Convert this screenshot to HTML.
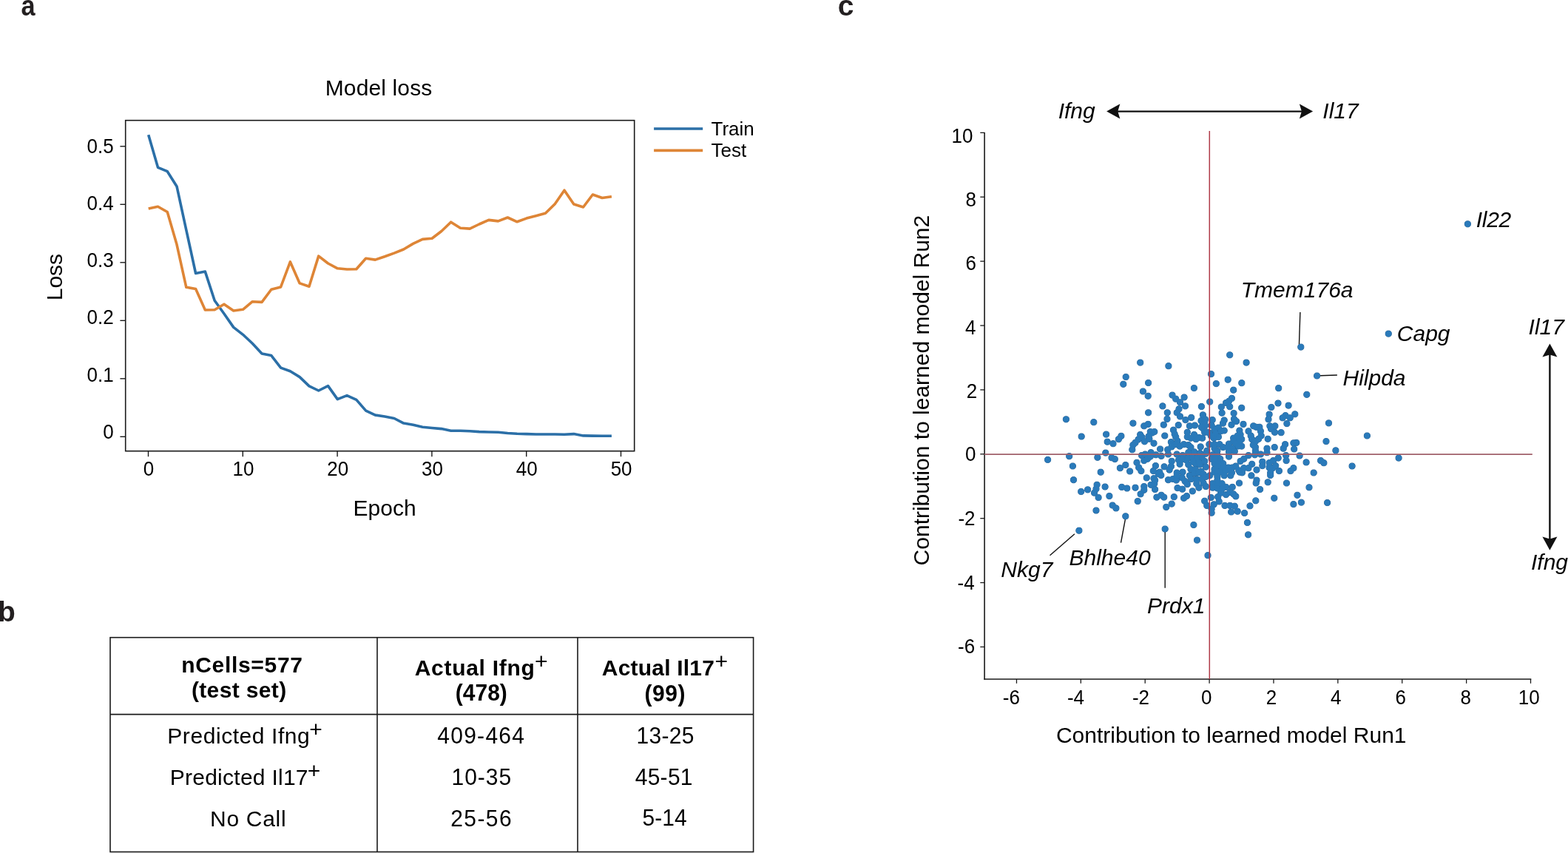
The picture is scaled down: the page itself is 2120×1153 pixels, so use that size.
<!DOCTYPE html>
<html><head><meta charset="utf-8"><title>Figure</title>
<style>
html,body{margin:0;padding:0;background:#fff;}
body{width:2120px;height:1153px;overflow:hidden;}
svg{display:block;}
text{font-family:"Liberation Sans", Arial, Helvetica, sans-serif;}
</style></head>
<body>
<svg width="2120" height="1153" viewBox="0 0 2120 1153">
<rect width="2120" height="1153" fill="#fff"/>
<text transform="translate(28.6,21) scale(0.88,1)" font-size="39" font-weight="bold" fill="#231f20">a</text>
<text x="439.70" y="129.20" font-size="30" textLength="144.59">Model loss</text>
<rect x="169.7" y="162.7" width="688.0" height="447.00000000000006" fill="none" stroke="#1a1a1a" stroke-width="1.6"/>
<line x1="162.40" y1="590.30" x2="169.70" y2="590.30" stroke="#1a1a1a" stroke-width="1.4"/>
<text transform="translate(153.6,592.90) scale(1,1.04)" font-size="26" text-anchor="end">0</text>
<line x1="162.40" y1="511.80" x2="169.70" y2="511.80" stroke="#1a1a1a" stroke-width="1.4"/>
<text transform="translate(153.6,515.62) scale(1,1.04)" font-size="26" text-anchor="end">0.1</text>
<line x1="162.40" y1="433.30" x2="169.70" y2="433.30" stroke="#1a1a1a" stroke-width="1.4"/>
<text transform="translate(153.6,438.34) scale(1,1.04)" font-size="26" text-anchor="end">0.2</text>
<line x1="162.40" y1="354.80" x2="169.70" y2="354.80" stroke="#1a1a1a" stroke-width="1.4"/>
<text transform="translate(153.6,361.06) scale(1,1.04)" font-size="26" text-anchor="end">0.3</text>
<line x1="162.40" y1="276.30" x2="169.70" y2="276.30" stroke="#1a1a1a" stroke-width="1.4"/>
<text transform="translate(153.6,283.78) scale(1,1.04)" font-size="26" text-anchor="end">0.4</text>
<line x1="162.40" y1="197.80" x2="169.70" y2="197.80" stroke="#1a1a1a" stroke-width="1.4"/>
<text transform="translate(153.6,206.50) scale(1,1.04)" font-size="26" text-anchor="end">0.5</text>
<line x1="200.50" y1="609.70" x2="200.50" y2="617.20" stroke="#1a1a1a" stroke-width="1.4"/>
<text transform="translate(201.10,643.4) scale(1,1.04)" font-size="26" text-anchor="middle">0</text>
<line x1="328.30" y1="609.70" x2="328.30" y2="617.20" stroke="#1a1a1a" stroke-width="1.4"/>
<text transform="translate(328.90,643.4) scale(1,1.04)" font-size="26" text-anchor="middle">10</text>
<line x1="456.10" y1="609.70" x2="456.10" y2="617.20" stroke="#1a1a1a" stroke-width="1.4"/>
<text transform="translate(456.70,643.4) scale(1,1.04)" font-size="26" text-anchor="middle">20</text>
<line x1="583.90" y1="609.70" x2="583.90" y2="617.20" stroke="#1a1a1a" stroke-width="1.4"/>
<text transform="translate(584.50,643.4) scale(1,1.04)" font-size="26" text-anchor="middle">30</text>
<line x1="711.70" y1="609.70" x2="711.70" y2="617.20" stroke="#1a1a1a" stroke-width="1.4"/>
<text transform="translate(712.30,643.4) scale(1,1.04)" font-size="26" text-anchor="middle">40</text>
<line x1="839.50" y1="609.70" x2="839.50" y2="617.20" stroke="#1a1a1a" stroke-width="1.4"/>
<text transform="translate(840.10,643.4) scale(1,1.04)" font-size="26" text-anchor="middle">50</text>
<text x="477.60" y="697.40" font-size="30">Epoch</text>
<text transform="translate(84.00,406.30) rotate(-90)" x="0" y="0" font-size="30">Loss</text>
<polyline points="200.70,182.30 213.48,226.30 226.26,231.70 239.04,252.00 251.82,310.80 264.60,369.50 277.38,367.10 290.16,406.30 302.94,424.00 315.72,442.40 328.50,452.30 341.28,464.30 354.06,478.00 366.84,480.60 379.62,497.10 392.40,501.80 405.18,509.60 417.96,521.90 430.74,528.00 443.52,521.60 456.30,539.60 469.08,534.60 481.86,540.40 494.64,555.10 507.42,561.10 520.20,563.00 532.98,565.50 545.76,572.10 558.54,574.30 571.32,577.20 584.10,578.50 596.88,579.60 609.66,582.30 622.44,582.30 635.22,582.80 648.00,583.60 660.78,584.00 673.56,584.30 686.34,585.50 699.12,586.20 711.90,586.60 724.68,587.00 737.46,587.00 750.24,587.00 763.02,587.20 775.80,586.60 788.58,588.90 801.36,589.10 814.14,589.20 826.92,589.20" fill="none" stroke="#2b6fa7" stroke-width="3.6" stroke-linejoin="round"/>
<polyline points="200.70,282.00 213.48,279.30 226.26,286.50 239.04,330.60 251.82,388.30 264.60,390.50 277.38,419.00 290.16,418.70 302.94,411.20 315.72,420.00 328.50,418.30 341.28,407.70 354.06,408.40 366.84,391.20 379.62,387.90 392.40,353.90 405.18,382.90 417.96,387.20 430.74,346.10 443.52,356.00 456.30,362.80 469.08,364.00 481.86,363.80 494.64,349.20 507.42,351.10 520.20,346.80 532.98,342.10 545.76,337.00 558.54,329.40 571.32,323.40 584.10,322.30 596.88,312.50 609.66,300.20 622.44,308.30 635.22,309.10 648.00,303.00 660.78,297.40 673.56,298.90 686.34,294.00 699.12,299.80 711.90,295.10 724.68,291.70 737.46,288.30 750.24,275.70 763.02,257.20 775.80,276.00 788.58,280.00 801.36,263.00 814.14,267.50 826.92,265.70" fill="none" stroke="#de8536" stroke-width="3.6" stroke-linejoin="round"/>
<line x1="884.10" y1="174.00" x2="950.20" y2="174.00" stroke="#2b6fa7" stroke-width="3.6"/>
<line x1="884.10" y1="203.40" x2="950.20" y2="203.40" stroke="#de8536" stroke-width="3.6"/>
<text x="961.50" y="182.60" font-size="26">Train</text>
<text x="961.60" y="211.90" font-size="26">Test</text>
<text x="-3.10" y="840.40" font-weight="bold" font-size="39" fill="#231f20">b</text>
<rect x="149" y="861.7" width="869.6" height="289.79999999999995" fill="none" stroke="#1a1a1a" stroke-width="1.6"/>
<line x1="510.00" y1="861.70" x2="510.00" y2="1151.50" stroke="#1a1a1a" stroke-width="1.6"/>
<line x1="781.00" y1="861.70" x2="781.00" y2="1151.50" stroke="#1a1a1a" stroke-width="1.6"/>
<line x1="149.00" y1="965.60" x2="1018.60" y2="965.60" stroke="#1a1a1a" stroke-width="1.6"/>
<text x="245.20" y="908.80" font-weight="bold" font-size="30" textLength="163.80">nCells=577</text>
<text x="258.90" y="942.90" font-weight="bold" font-size="30" textLength="128.23">(test set)</text>
<text x="560.70" y="913.00" font-weight="bold" font-size="30" textLength="162.09">Actual Ifng</text>
<text transform="translate(615.80,947.20) scale(1,1.04)" x="0" y="0" font-weight="bold" font-size="30">(478)</text>
<text x="813.80" y="913.20" font-weight="bold" font-size="30" textLength="152.06">Actual Il17</text>
<text transform="translate(871.60,947.60) scale(1,1.04)" x="0" y="0" font-weight="bold" font-size="30" textLength="54.85">(99)</text>
<text x="722.90" y="904.30" font-size="30">+</text>
<text x="966.40" y="904.10" font-size="30">+</text>
<text x="418.30" y="996.10" font-size="30">+</text>
<text x="415.70" y="1052.20" font-size="30">+</text>
<text x="226.30" y="1005.10" font-size="30" textLength="192.41">Predicted Ifng</text>
<text x="229.70" y="1060.80" font-size="30" textLength="186.84">Predicted Il17</text>
<text x="284.10" y="1116.60" font-size="30" textLength="102.47">No Call</text>
<text transform="translate(591.20,1004.70) scale(1,1.04)" x="0" y="0" font-size="30" textLength="117.80">409-464</text>
<text transform="translate(610.50,1060.80) scale(1,1.04)" x="0" y="0" font-size="30" textLength="80.73">10-35</text>
<text transform="translate(609.20,1116.60) scale(1,1.04)" x="0" y="0" font-size="30" textLength="82.43">25-56</text>
<text transform="translate(860.60,1004.70) scale(1,1.04)" x="0" y="0" font-size="30" textLength="77.83">13-25</text>
<text transform="translate(858.70,1060.90) scale(1,1.04)" x="0" y="0" font-size="30" textLength="77.83">45-51</text>
<text transform="translate(868.60,1116.40) scale(1,1.04)" x="0" y="0" font-size="30">5-14</text>
<text x="1132.70" y="20.90" font-weight="bold" font-size="39" fill="#231f20">c</text>
<line x1="1331.10" y1="179.00" x2="1331.10" y2="918.70" stroke="#1a1a1a" stroke-width="1.6"/>
<line x1="1330.40" y1="918.00" x2="2070.30" y2="918.00" stroke="#1a1a1a" stroke-width="1.6"/>
<line x1="1325.30" y1="874.44" x2="1331.10" y2="874.44" stroke="#1a1a1a" stroke-width="1.3"/>
<text transform="translate(1295.00,882.80) scale(1,1.04)" font-size="26">-6</text>
<line x1="1325.30" y1="787.56" x2="1331.10" y2="787.56" stroke="#1a1a1a" stroke-width="1.3"/>
<text transform="translate(1294.60,796.50) scale(1,1.04)" font-size="26">-4</text>
<line x1="1325.30" y1="700.68" x2="1331.10" y2="700.68" stroke="#1a1a1a" stroke-width="1.3"/>
<text transform="translate(1295.40,709.60) scale(1,1.04)" font-size="26">-2</text>
<line x1="1325.30" y1="613.80" x2="1331.10" y2="613.80" stroke="#1a1a1a" stroke-width="1.3"/>
<text transform="translate(1304.90,623.00) scale(1,1.04)" font-size="26">0</text>
<line x1="1325.30" y1="526.92" x2="1331.10" y2="526.92" stroke="#1a1a1a" stroke-width="1.3"/>
<text transform="translate(1306.80,537.70) scale(1,1.04)" font-size="26">2</text>
<line x1="1325.30" y1="440.04" x2="1331.10" y2="440.04" stroke="#1a1a1a" stroke-width="1.3"/>
<text transform="translate(1305.00,451.70) scale(1,1.04)" font-size="26">4</text>
<line x1="1325.30" y1="353.16" x2="1331.10" y2="353.16" stroke="#1a1a1a" stroke-width="1.3"/>
<text transform="translate(1305.40,365.10) scale(1,1.04)" font-size="26">6</text>
<line x1="1325.30" y1="266.28" x2="1331.10" y2="266.28" stroke="#1a1a1a" stroke-width="1.3"/>
<text transform="translate(1305.40,278.60) scale(1,1.04)" font-size="26">8</text>
<line x1="1325.30" y1="179.40" x2="1331.10" y2="179.40" stroke="#1a1a1a" stroke-width="1.3"/>
<text transform="translate(1286.60,192.90) scale(1,1.04)" font-size="26">10</text>
<line x1="1374.46" y1="918.00" x2="1374.46" y2="923.80" stroke="#1a1a1a" stroke-width="1.3"/>
<text transform="translate(1355.80,952.0) scale(1,1.04)" font-size="26">-6</text>
<line x1="1461.34" y1="918.00" x2="1461.34" y2="923.80" stroke="#1a1a1a" stroke-width="1.3"/>
<text transform="translate(1442.95,952.0) scale(1,1.04)" font-size="26">-4</text>
<line x1="1548.22" y1="918.00" x2="1548.22" y2="923.80" stroke="#1a1a1a" stroke-width="1.3"/>
<text transform="translate(1530.95,952.0) scale(1,1.04)" font-size="26">-2</text>
<line x1="1635.10" y1="918.00" x2="1635.10" y2="923.80" stroke="#1a1a1a" stroke-width="1.3"/>
<text transform="translate(1624.10,952.0) scale(1,1.04)" font-size="26">0</text>
<line x1="1721.98" y1="918.00" x2="1721.98" y2="923.80" stroke="#1a1a1a" stroke-width="1.3"/>
<text transform="translate(1711.65,952.0) scale(1,1.04)" font-size="26">2</text>
<line x1="1808.86" y1="918.00" x2="1808.86" y2="923.80" stroke="#1a1a1a" stroke-width="1.3"/>
<text transform="translate(1799.05,952.0) scale(1,1.04)" font-size="26">4</text>
<line x1="1895.74" y1="918.00" x2="1895.74" y2="923.80" stroke="#1a1a1a" stroke-width="1.3"/>
<text transform="translate(1886.60,952.0) scale(1,1.04)" font-size="26">6</text>
<line x1="1982.62" y1="918.00" x2="1982.62" y2="923.80" stroke="#1a1a1a" stroke-width="1.3"/>
<text transform="translate(1974.50,952.0) scale(1,1.04)" font-size="26">8</text>
<line x1="2069.50" y1="918.00" x2="2069.50" y2="923.80" stroke="#1a1a1a" stroke-width="1.3"/>
<text transform="translate(2052.75,952.0) scale(1,1.04)" font-size="26">10</text>
<text x="1427.90" y="1003.80" font-size="30">Contribution to learned model Run1</text>
<text transform="translate(1255.70,764.40) rotate(-90)" x="0" y="0" font-size="30">Contribution to learned model Run2</text>
<line x1="1508.00" y1="150.60" x2="1763.00" y2="150.60" stroke="#111" stroke-width="2.4"/>
<path d="M1496.10,150.60 L1514.30,140.60 L1511.30,150.60 L1514.30,160.60 Z" fill="#111"/>
<path d="M1775.10,150.60 L1756.90,160.60 L1759.90,150.60 L1756.90,140.60 Z" fill="#111"/>
<line x1="2095.40" y1="476.00" x2="2095.40" y2="732.00" stroke="#111" stroke-width="2.4"/>
<path d="M2095.40,464.40 L2105.40,482.60 L2095.40,479.60 L2085.40,482.60 Z" fill="#111"/>
<path d="M2095.40,743.70 L2085.40,725.50 L2095.40,728.50 L2105.40,725.50 Z" fill="#111"/>
<text x="1430.70" y="159.90" font-style="italic" font-size="30">Ifng</text>
<text x="1788.30" y="159.90" font-style="italic" font-size="30">Il17</text>
<text x="2066.60" y="452.30" font-style="italic" font-size="30">Il17</text>
<text x="2070.00" y="770.00" font-style="italic" font-size="30">Ifng</text>
<text x="1995.80" y="307.00" font-style="italic" font-size="30" textLength="47.37">Il22</text>
<text x="1677.80" y="402.30" font-style="italic" font-size="30">Tmem176a</text>
<text x="1888.80" y="461.30" font-style="italic" font-size="30">Capg</text>
<text x="1815.50" y="520.70" font-style="italic" font-size="30">Hilpda</text>
<text x="1353.30" y="779.90" font-style="italic" font-size="30">Nkg7</text>
<text x="1445.50" y="763.60" font-style="italic" font-size="30">Bhlhe40</text>
<text x="1551.10" y="829.40" font-style="italic" font-size="30">Prdx1</text>
<line x1="1757.90" y1="422.10" x2="1756.40" y2="467.60" stroke="#111" stroke-width="1.4"/>
<line x1="1785.00" y1="507.80" x2="1807.90" y2="507.00" stroke="#111" stroke-width="1.4"/>
<line x1="1452.90" y1="721.80" x2="1419.50" y2="750.80" stroke="#111" stroke-width="1.4"/>
<line x1="1521.40" y1="702.00" x2="1515.50" y2="733.60" stroke="#111" stroke-width="1.4"/>
<line x1="1575.20" y1="715.00" x2="1575.20" y2="794.70" stroke="#111" stroke-width="1.4"/>
<g fill="#245f92" stroke="#245f92" stroke-width="0.9"><circle cx="1541.7" cy="490.1" r="4.1"/><circle cx="1522.2" cy="509.5" r="4.1"/><circle cx="1518.8" cy="519.3" r="4.1"/><circle cx="1552.6" cy="517.5" r="4.1"/><circle cx="1545.4" cy="529.0" r="4.1"/><circle cx="1552.2" cy="535.3" r="4.1"/><circle cx="1579.9" cy="494.7" r="4.1"/><circle cx="1662.7" cy="479.8" r="4.1"/><circle cx="1685.1" cy="490.1" r="4.1"/><circle cx="1637.5" cy="505.6" r="4.1"/><circle cx="1660.2" cy="513.2" r="4.1"/><circle cx="1644.3" cy="518.6" r="4.1"/><circle cx="1678.8" cy="517.7" r="4.1"/><circle cx="1614.4" cy="524.6" r="4.1"/><circle cx="1667.7" cy="527.2" r="4.1"/><circle cx="1585.0" cy="534.1" r="4.1"/><circle cx="1589.7" cy="539.2" r="4.1"/><circle cx="1595.5" cy="543.8" r="4.1"/><circle cx="1601.1" cy="537.0" r="4.1"/><circle cx="1571.9" cy="548.9" r="4.1"/><circle cx="1602.5" cy="548.9" r="4.1"/><circle cx="1624.4" cy="549.5" r="4.1"/><circle cx="1635.7" cy="543.1" r="4.1"/><circle cx="1665.4" cy="538.4" r="4.1"/><circle cx="1661.5" cy="542.3" r="4.1"/><circle cx="1657.6" cy="544.6" r="4.1"/><circle cx="1651.3" cy="550.1" r="4.1"/><circle cx="1662.7" cy="549.7" r="4.1"/><circle cx="1678.7" cy="551.3" r="4.1"/><circle cx="1718.9" cy="550.5" r="4.1"/><circle cx="1594.0" cy="552.8" r="4.1"/><circle cx="1728.7" cy="524.7" r="4.1"/><circle cx="1766.8" cy="533.3" r="4.1"/><circle cx="1728.0" cy="545.0" r="4.1"/><circle cx="1742.1" cy="548.1" r="4.1"/><circle cx="1441.4" cy="566.8" r="4.1"/><circle cx="1478.8" cy="570.7" r="4.1"/><circle cx="1462.2" cy="590.0" r="4.1"/><circle cx="1552.6" cy="557.8" r="4.1"/><circle cx="1531.9" cy="572.1" r="4.1"/><circle cx="1495.6" cy="587.1" r="4.1"/><circle cx="1497.2" cy="597.2" r="4.1"/><circle cx="1505.0" cy="599.7" r="4.1"/><circle cx="1512.4" cy="593.7" r="4.1"/><circle cx="1515.9" cy="589.4" r="4.1"/><circle cx="1552.2" cy="573.4" r="4.1"/><circle cx="1546.8" cy="575.8" r="4.1"/><circle cx="1555.3" cy="583.6" r="4.1"/><circle cx="1557.7" cy="585.1" r="4.1"/><circle cx="1541.7" cy="587.5" r="4.1"/><circle cx="1553.0" cy="589.8" r="4.1"/><circle cx="1547.5" cy="596.8" r="4.1"/><circle cx="1535.0" cy="598.4" r="4.1"/><circle cx="1531.9" cy="601.5" r="4.1"/><circle cx="1560.0" cy="599.2" r="4.1"/><circle cx="1530.8" cy="607.8" r="4.1"/><circle cx="1416.6" cy="621.4" r="4.1"/><circle cx="1445.7" cy="616.7" r="4.1"/><circle cx="1450.4" cy="630.0" r="4.1"/><circle cx="1483.9" cy="618.3" r="4.1"/><circle cx="1494.8" cy="612.1" r="4.1"/><circle cx="1503.0" cy="618.7" r="4.1"/><circle cx="1507.3" cy="620.6" r="4.1"/><circle cx="1543.6" cy="615.6" r="4.1"/><circle cx="1548.3" cy="614.0" r="4.1"/><circle cx="1556.1" cy="611.7" r="4.1"/><circle cx="1562.8" cy="614.8" r="4.1"/><circle cx="1546.8" cy="622.6" r="4.1"/><circle cx="1551.4" cy="620.3" r="4.1"/><circle cx="1555.3" cy="617.1" r="4.1"/><circle cx="1537.0" cy="625.3" r="4.1"/><circle cx="1521.8" cy="628.5" r="4.1"/><circle cx="1514.4" cy="632.7" r="4.1"/><circle cx="1488.2" cy="638.2" r="4.1"/><circle cx="1527.6" cy="637.0" r="4.1"/><circle cx="1539.7" cy="632.0" r="4.1"/><circle cx="1542.9" cy="636.6" r="4.1"/><circle cx="1562.4" cy="629.6" r="4.1"/><circle cx="1559.3" cy="636.6" r="4.1"/><circle cx="1578.3" cy="557.8" r="4.1"/><circle cx="1591.2" cy="557.8" r="4.1"/><circle cx="1595.5" cy="562.9" r="4.1"/><circle cx="1602.9" cy="567.6" r="4.1"/><circle cx="1610.7" cy="564.4" r="4.1"/><circle cx="1578.0" cy="566.4" r="4.1"/><circle cx="1573.3" cy="574.2" r="4.1"/><circle cx="1593.2" cy="574.6" r="4.1"/><circle cx="1626.4" cy="560.9" r="4.1"/><circle cx="1624.0" cy="568.7" r="4.1"/><circle cx="1628.7" cy="570.3" r="4.1"/><circle cx="1639.2" cy="567.6" r="4.1"/><circle cx="1652.1" cy="558.2" r="4.1"/><circle cx="1655.2" cy="568.0" r="4.1"/><circle cx="1668.1" cy="558.6" r="4.1"/><circle cx="1668.5" cy="566.4" r="4.1"/><circle cx="1671.6" cy="569.5" r="4.1"/><circle cx="1665.0" cy="574.2" r="4.1"/><circle cx="1681.0" cy="573.4" r="4.1"/><circle cx="1716.1" cy="560.1" r="4.1"/><circle cx="1715.0" cy="566.8" r="4.1"/><circle cx="1716.9" cy="575.8" r="4.1"/><circle cx="1718.5" cy="579.7" r="4.1"/><circle cx="1723.5" cy="584.3" r="4.1"/><circle cx="1694.7" cy="575.8" r="4.1"/><circle cx="1702.9" cy="577.3" r="4.1"/><circle cx="1704.4" cy="582.8" r="4.1"/><circle cx="1688.0" cy="582.8" r="4.1"/><circle cx="1691.2" cy="589.0" r="4.1"/><circle cx="1692.7" cy="593.7" r="4.1"/><circle cx="1697.4" cy="596.8" r="4.1"/><circle cx="1705.2" cy="589.0" r="4.1"/><circle cx="1714.2" cy="593.3" r="4.1"/><circle cx="1694.3" cy="601.5" r="4.1"/><circle cx="1697.4" cy="604.6" r="4.1"/><circle cx="1697.4" cy="609.3" r="4.1"/><circle cx="1713.0" cy="606.2" r="4.1"/><circle cx="1713.0" cy="611.7" r="4.1"/><circle cx="1723.2" cy="604.6" r="4.1"/><circle cx="1704.4" cy="614.0" r="4.1"/><circle cx="1696.6" cy="614.8" r="4.1"/><circle cx="1688.0" cy="615.6" r="4.1"/><circle cx="1675.9" cy="582.0" r="4.1"/><circle cx="1677.1" cy="587.5" r="4.1"/><circle cx="1678.7" cy="593.7" r="4.1"/><circle cx="1678.7" cy="603.1" r="4.1"/><circle cx="1672.4" cy="592.2" r="4.1"/><circle cx="1667.7" cy="592.2" r="4.1"/><circle cx="1667.7" cy="596.8" r="4.1"/><circle cx="1661.5" cy="600.0" r="4.1"/><circle cx="1659.9" cy="604.6" r="4.1"/><circle cx="1666.2" cy="606.2" r="4.1"/><circle cx="1669.3" cy="610.1" r="4.1"/><circle cx="1661.5" cy="610.9" r="4.1"/><circle cx="1661.5" cy="617.1" r="4.1"/><circle cx="1647.4" cy="578.1" r="4.1"/><circle cx="1655.2" cy="582.0" r="4.1"/><circle cx="1650.6" cy="582.8" r="4.1"/><circle cx="1642.0" cy="579.7" r="4.1"/><circle cx="1638.1" cy="575.0" r="4.1"/><circle cx="1643.5" cy="585.9" r="4.1"/><circle cx="1647.4" cy="590.6" r="4.1"/><circle cx="1641.2" cy="592.2" r="4.1"/><circle cx="1637.3" cy="589.0" r="4.1"/><circle cx="1634.9" cy="585.1" r="4.1"/><circle cx="1627.1" cy="579.7" r="4.1"/><circle cx="1628.7" cy="584.3" r="4.1"/><circle cx="1625.6" cy="592.2" r="4.1"/><circle cx="1620.9" cy="591.4" r="4.1"/><circle cx="1617.0" cy="593.7" r="4.1"/><circle cx="1614.6" cy="587.5" r="4.1"/><circle cx="1608.4" cy="575.8" r="4.1"/><circle cx="1615.4" cy="575.0" r="4.1"/><circle cx="1605.3" cy="584.3" r="4.1"/><circle cx="1605.3" cy="590.6" r="4.1"/><circle cx="1610.0" cy="592.2" r="4.1"/><circle cx="1586.5" cy="581.2" r="4.1"/><circle cx="1588.1" cy="586.7" r="4.1"/><circle cx="1589.7" cy="590.6" r="4.1"/><circle cx="1574.8" cy="589.0" r="4.1"/><circle cx="1560.8" cy="583.6" r="4.1"/><circle cx="1583.4" cy="597.6" r="4.1"/><circle cx="1592.0" cy="596.1" r="4.1"/><circle cx="1589.7" cy="600.7" r="4.1"/><circle cx="1584.2" cy="603.9" r="4.1"/><circle cx="1578.7" cy="607.8" r="4.1"/><circle cx="1568.6" cy="607.0" r="4.1"/><circle cx="1595.1" cy="603.1" r="4.1"/><circle cx="1600.6" cy="600.7" r="4.1"/><circle cx="1606.8" cy="601.5" r="4.1"/><circle cx="1610.0" cy="604.6" r="4.1"/><circle cx="1623.2" cy="603.9" r="4.1"/><circle cx="1634.9" cy="600.7" r="4.1"/><circle cx="1642.0" cy="600.7" r="4.1"/><circle cx="1649.0" cy="600.7" r="4.1"/><circle cx="1653.7" cy="604.6" r="4.1"/><circle cx="1642.0" cy="606.2" r="4.1"/><circle cx="1645.9" cy="609.3" r="4.1"/><circle cx="1631.8" cy="609.3" r="4.1"/><circle cx="1570.1" cy="616.4" r="4.1"/><circle cx="1579.5" cy="614.0" r="4.1"/><circle cx="1591.2" cy="614.0" r="4.1"/><circle cx="1599.0" cy="615.6" r="4.1"/><circle cx="1606.8" cy="611.7" r="4.1"/><circle cx="1614.6" cy="610.9" r="4.1"/><circle cx="1622.5" cy="612.5" r="4.1"/><circle cx="1630.3" cy="613.2" r="4.1"/><circle cx="1639.6" cy="614.8" r="4.1"/><circle cx="1645.9" cy="614.8" r="4.1"/><circle cx="1584.2" cy="623.4" r="4.1"/><circle cx="1583.4" cy="630.4" r="4.1"/><circle cx="1574.1" cy="630.8" r="4.1"/><circle cx="1581.1" cy="635.1" r="4.1"/><circle cx="1593.6" cy="621.8" r="4.1"/><circle cx="1595.1" cy="627.3" r="4.1"/><circle cx="1603.7" cy="621.8" r="4.1"/><circle cx="1606.8" cy="628.1" r="4.1"/><circle cx="1610.0" cy="634.3" r="4.1"/><circle cx="1616.2" cy="626.5" r="4.1"/><circle cx="1616.2" cy="634.3" r="4.1"/><circle cx="1622.5" cy="628.1" r="4.1"/><circle cx="1628.7" cy="623.4" r="4.1"/><circle cx="1630.3" cy="631.2" r="4.1"/><circle cx="1624.0" cy="637.4" r="4.1"/><circle cx="1638.1" cy="620.3" r="4.1"/><circle cx="1642.0" cy="626.5" r="4.1"/><circle cx="1649.8" cy="620.3" r="4.1"/><circle cx="1653.7" cy="626.5" r="4.1"/><circle cx="1642.0" cy="634.3" r="4.1"/><circle cx="1652.1" cy="634.3" r="4.1"/><circle cx="1660.7" cy="632.0" r="4.1"/><circle cx="1666.2" cy="632.0" r="4.1"/><circle cx="1670.8" cy="630.0" r="4.1"/><circle cx="1677.1" cy="623.4" r="4.1"/><circle cx="1681.8" cy="620.3" r="4.1"/><circle cx="1692.7" cy="627.3" r="4.1"/><circle cx="1681.8" cy="632.7" r="4.1"/><circle cx="1688.0" cy="632.7" r="4.1"/><circle cx="1699.0" cy="635.1" r="4.1"/><circle cx="1706.8" cy="624.2" r="4.1"/><circle cx="1706.8" cy="629.6" r="4.1"/><circle cx="1716.1" cy="625.7" r="4.1"/><circle cx="1721.6" cy="622.6" r="4.1"/><circle cx="1716.1" cy="632.0" r="4.1"/><circle cx="1720.8" cy="632.7" r="4.1"/><circle cx="1717.7" cy="639.0" r="4.1"/><circle cx="1665.4" cy="639.0" r="4.1"/><circle cx="1676.3" cy="638.2" r="4.1"/><circle cx="1599.0" cy="638.2" r="4.1"/><circle cx="1591.2" cy="639.0" r="4.1"/><circle cx="1567.8" cy="638.2" r="4.1"/><circle cx="1750.8" cy="559.8" r="4.1"/><circle cx="1738.0" cy="561.7" r="4.1"/><circle cx="1734.1" cy="564.8" r="4.1"/><circle cx="1744.2" cy="564.8" r="4.1"/><circle cx="1739.9" cy="572.6" r="4.1"/><circle cx="1723.9" cy="575.8" r="4.1"/><circle cx="1732.1" cy="584.7" r="4.1"/><circle cx="1796.5" cy="571.9" r="4.1"/><circle cx="1848.4" cy="589.0" r="4.1"/><circle cx="1793.0" cy="596.6" r="4.1"/><circle cx="1805.9" cy="608.9" r="4.1"/><circle cx="1737.6" cy="600.7" r="4.1"/><circle cx="1735.2" cy="606.2" r="4.1"/><circle cx="1748.9" cy="598.8" r="4.1"/><circle cx="1752.8" cy="598.4" r="4.1"/><circle cx="1749.7" cy="607.0" r="4.1"/><circle cx="1738.7" cy="615.6" r="4.1"/><circle cx="1739.1" cy="622.6" r="4.1"/><circle cx="1728.2" cy="619.1" r="4.1"/><circle cx="1757.1" cy="616.0" r="4.1"/><circle cx="1766.1" cy="624.9" r="4.1"/><circle cx="1785.6" cy="622.6" r="4.1"/><circle cx="1789.9" cy="625.7" r="4.1"/><circle cx="1828.1" cy="630.0" r="4.1"/><circle cx="1724.7" cy="629.6" r="4.1"/><circle cx="1729.4" cy="636.6" r="4.1"/><circle cx="1748.9" cy="632.7" r="4.1"/><circle cx="1745.0" cy="636.6" r="4.1"/><circle cx="1776.2" cy="639.0" r="4.1"/><circle cx="1550.3" cy="645.9" r="4.1"/><circle cx="1560.0" cy="646.7" r="4.1"/><circle cx="1556.1" cy="655.3" r="4.1"/><circle cx="1560.8" cy="653.7" r="4.1"/><circle cx="1561.6" cy="661.5" r="4.1"/><circle cx="1563.9" cy="672.1" r="4.1"/><circle cx="1451.5" cy="648.7" r="4.1"/><circle cx="1483.1" cy="655.3" r="4.1"/><circle cx="1482.0" cy="660.8" r="4.1"/><circle cx="1479.6" cy="666.2" r="4.1"/><circle cx="1485.1" cy="672.5" r="4.1"/><circle cx="1470.6" cy="661.9" r="4.1"/><circle cx="1461.7" cy="664.5" r="4.1"/><circle cx="1494.1" cy="658.0" r="4.1"/><circle cx="1499.9" cy="670.5" r="4.1"/><circle cx="1516.7" cy="658.4" r="4.1"/><circle cx="1523.7" cy="660.0" r="4.1"/><circle cx="1535.0" cy="659.2" r="4.1"/><circle cx="1546.8" cy="657.6" r="4.1"/><circle cx="1546.8" cy="662.3" r="4.1"/><circle cx="1542.1" cy="667.8" r="4.1"/><circle cx="1538.2" cy="677.5" r="4.1"/><circle cx="1504.2" cy="683.0" r="4.1"/><circle cx="1508.9" cy="686.9" r="4.1"/><circle cx="1482.0" cy="690.0" r="4.1"/><circle cx="1566.2" cy="640.5" r="4.1"/><circle cx="1569.8" cy="642.4" r="4.1"/><circle cx="1561.6" cy="649.1" r="4.1"/><circle cx="1579.5" cy="648.7" r="4.1"/><circle cx="1585.8" cy="647.5" r="4.1"/><circle cx="1590.4" cy="649.1" r="4.1"/><circle cx="1591.2" cy="642.8" r="4.1"/><circle cx="1598.3" cy="645.9" r="4.1"/><circle cx="1602.2" cy="650.6" r="4.1"/><circle cx="1605.3" cy="654.5" r="4.1"/><circle cx="1592.0" cy="659.6" r="4.1"/><circle cx="1598.6" cy="661.2" r="4.1"/><circle cx="1608.4" cy="642.8" r="4.1"/><circle cx="1614.6" cy="639.7" r="4.1"/><circle cx="1620.9" cy="638.9" r="4.1"/><circle cx="1627.1" cy="641.2" r="4.1"/><circle cx="1610.7" cy="647.5" r="4.1"/><circle cx="1617.8" cy="647.5" r="4.1"/><circle cx="1624.8" cy="647.5" r="4.1"/><circle cx="1630.3" cy="644.4" r="4.1"/><circle cx="1617.8" cy="653.7" r="4.1"/><circle cx="1620.9" cy="659.2" r="4.1"/><circle cx="1627.1" cy="653.0" r="4.1"/><circle cx="1630.3" cy="657.6" r="4.1"/><circle cx="1612.3" cy="663.9" r="4.1"/><circle cx="1635.7" cy="642.8" r="4.1"/><circle cx="1642.0" cy="638.1" r="4.1"/><circle cx="1649.8" cy="638.1" r="4.1"/><circle cx="1656.8" cy="636.6" r="4.1"/><circle cx="1663.8" cy="635.8" r="4.1"/><circle cx="1645.9" cy="644.4" r="4.1"/><circle cx="1645.9" cy="649.1" r="4.1"/><circle cx="1655.2" cy="642.8" r="4.1"/><circle cx="1663.8" cy="642.8" r="4.1"/><circle cx="1639.6" cy="653.7" r="4.1"/><circle cx="1645.9" cy="655.3" r="4.1"/><circle cx="1652.1" cy="653.7" r="4.1"/><circle cx="1657.6" cy="658.4" r="4.1"/><circle cx="1639.6" cy="659.2" r="4.1"/><circle cx="1645.9" cy="660.0" r="4.1"/><circle cx="1652.1" cy="660.8" r="4.1"/><circle cx="1666.2" cy="658.4" r="4.1"/><circle cx="1650.6" cy="666.2" r="4.1"/><circle cx="1657.6" cy="668.6" r="4.1"/><circle cx="1663.0" cy="665.4" r="4.1"/><circle cx="1667.7" cy="667.8" r="4.1"/><circle cx="1670.8" cy="670.9" r="4.1"/><circle cx="1675.5" cy="653.0" r="4.1"/><circle cx="1679.4" cy="638.9" r="4.1"/><circle cx="1674.8" cy="635.8" r="4.1"/><circle cx="1691.9" cy="642.8" r="4.1"/><circle cx="1699.0" cy="649.1" r="4.1"/><circle cx="1698.2" cy="653.0" r="4.1"/><circle cx="1703.6" cy="661.5" r="4.1"/><circle cx="1714.2" cy="651.8" r="4.1"/><circle cx="1717.7" cy="642.4" r="4.1"/><circle cx="1722.8" cy="673.3" r="4.1"/><circle cx="1697.8" cy="676.8" r="4.1"/><circle cx="1690.0" cy="683.8" r="4.1"/><circle cx="1682.6" cy="693.5" r="4.1"/><circle cx="1686.5" cy="706.4" r="4.1"/><circle cx="1687.6" cy="722.8" r="4.1"/><circle cx="1637.3" cy="672.5" r="4.1"/><circle cx="1646.7" cy="671.7" r="4.1"/><circle cx="1648.2" cy="677.9" r="4.1"/><circle cx="1628.7" cy="677.2" r="4.1"/><circle cx="1631.8" cy="683.4" r="4.1"/><circle cx="1641.2" cy="681.8" r="4.1"/><circle cx="1638.1" cy="688.1" r="4.1"/><circle cx="1638.1" cy="693.2" r="4.1"/><circle cx="1656.0" cy="683.4" r="4.1"/><circle cx="1663.0" cy="683.4" r="4.1"/><circle cx="1669.3" cy="684.2" r="4.1"/><circle cx="1664.6" cy="692.0" r="4.1"/><circle cx="1673.2" cy="691.2" r="4.1"/><circle cx="1570.1" cy="669.3" r="4.1"/><circle cx="1573.7" cy="672.1" r="4.1"/><circle cx="1587.3" cy="671.7" r="4.1"/><circle cx="1600.6" cy="673.3" r="4.1"/><circle cx="1604.5" cy="670.5" r="4.1"/><circle cx="1584.2" cy="681.1" r="4.1"/><circle cx="1576.8" cy="685.4" r="4.1"/><circle cx="1613.9" cy="709.5" r="4.1"/><circle cx="1739.5" cy="653.0" r="4.1"/><circle cx="1770.0" cy="658.8" r="4.1"/><circle cx="1754.0" cy="669.3" r="4.1"/><circle cx="1759.4" cy="679.1" r="4.1"/><circle cx="1748.9" cy="681.6" r="4.1"/><circle cx="1794.6" cy="679.5" r="4.1"/><circle cx="1618.5" cy="730.1" r="4.1"/><circle cx="1633.0" cy="750.7" r="4.1"/><circle cx="1891.1" cy="619.1" r="4.1"/><circle cx="1629.5" cy="566.9" r="4.1"/><circle cx="1626.4" cy="573.6" r="4.1"/><circle cx="1629.5" cy="575.2" r="4.1"/><circle cx="1624.3" cy="577.3" r="4.1"/><circle cx="1631.6" cy="584.0" r="4.1"/><circle cx="1653.5" cy="572.1" r="4.1"/><circle cx="1673.2" cy="589.2" r="4.1"/><circle cx="1675.8" cy="597.0" r="4.1"/><circle cx="1670.6" cy="599.6" r="4.1"/><circle cx="1606.0" cy="619.0" r="4.1"/><circle cx="1612.0" cy="618.0" r="4.1"/><circle cx="1618.0" cy="619.0" r="4.1"/><circle cx="1625.0" cy="618.0" r="4.1"/><circle cx="1613.0" cy="624.0" r="4.1"/><circle cx="1621.0" cy="625.0" r="4.1"/><circle cx="1598.0" cy="621.0" r="4.1"/><circle cx="1646.0" cy="622.0" r="4.1"/><circle cx="1648.0" cy="628.0" r="4.1"/><circle cx="1654.0" cy="630.0" r="4.1"/><circle cx="1674.0" cy="603.0" r="4.1"/><circle cx="1643.0" cy="620.0" r="4.1"/><circle cx="1646.0" cy="630.0" r="4.1"/><circle cx="1645.0" cy="637.0" r="4.1"/><circle cx="1553.9" cy="593.3" r="4.1"/><circle cx="1539.0" cy="594.0" r="4.1"/><circle cx="1544.0" cy="591.0" r="4.1"/><circle cx="1698.5" cy="577.3" r="4.1"/><circle cx="1701.6" cy="593.4" r="4.1"/><circle cx="1984.4" cy="302.8" r="4.1"/><circle cx="1877.3" cy="451.1" r="4.1"/><circle cx="1758.8" cy="469.1" r="4.1"/><circle cx="1780.6" cy="508.0" r="4.1"/><circle cx="1458.9" cy="717.2" r="4.1"/><circle cx="1521.8" cy="697.8" r="4.1"/><circle cx="1575.2" cy="715.0" r="4.1"/></g>
<g fill="#2a7aba"><circle cx="1541.7" cy="490.1" r="4.1"/><circle cx="1522.2" cy="509.5" r="4.1"/><circle cx="1518.8" cy="519.3" r="4.1"/><circle cx="1552.6" cy="517.5" r="4.1"/><circle cx="1545.4" cy="529.0" r="4.1"/><circle cx="1552.2" cy="535.3" r="4.1"/><circle cx="1579.9" cy="494.7" r="4.1"/><circle cx="1662.7" cy="479.8" r="4.1"/><circle cx="1685.1" cy="490.1" r="4.1"/><circle cx="1637.5" cy="505.6" r="4.1"/><circle cx="1660.2" cy="513.2" r="4.1"/><circle cx="1644.3" cy="518.6" r="4.1"/><circle cx="1678.8" cy="517.7" r="4.1"/><circle cx="1614.4" cy="524.6" r="4.1"/><circle cx="1667.7" cy="527.2" r="4.1"/><circle cx="1585.0" cy="534.1" r="4.1"/><circle cx="1589.7" cy="539.2" r="4.1"/><circle cx="1595.5" cy="543.8" r="4.1"/><circle cx="1601.1" cy="537.0" r="4.1"/><circle cx="1571.9" cy="548.9" r="4.1"/><circle cx="1602.5" cy="548.9" r="4.1"/><circle cx="1624.4" cy="549.5" r="4.1"/><circle cx="1635.7" cy="543.1" r="4.1"/><circle cx="1665.4" cy="538.4" r="4.1"/><circle cx="1661.5" cy="542.3" r="4.1"/><circle cx="1657.6" cy="544.6" r="4.1"/><circle cx="1651.3" cy="550.1" r="4.1"/><circle cx="1662.7" cy="549.7" r="4.1"/><circle cx="1678.7" cy="551.3" r="4.1"/><circle cx="1718.9" cy="550.5" r="4.1"/><circle cx="1594.0" cy="552.8" r="4.1"/><circle cx="1728.7" cy="524.7" r="4.1"/><circle cx="1766.8" cy="533.3" r="4.1"/><circle cx="1728.0" cy="545.0" r="4.1"/><circle cx="1742.1" cy="548.1" r="4.1"/><circle cx="1441.4" cy="566.8" r="4.1"/><circle cx="1478.8" cy="570.7" r="4.1"/><circle cx="1462.2" cy="590.0" r="4.1"/><circle cx="1552.6" cy="557.8" r="4.1"/><circle cx="1531.9" cy="572.1" r="4.1"/><circle cx="1495.6" cy="587.1" r="4.1"/><circle cx="1497.2" cy="597.2" r="4.1"/><circle cx="1505.0" cy="599.7" r="4.1"/><circle cx="1512.4" cy="593.7" r="4.1"/><circle cx="1515.9" cy="589.4" r="4.1"/><circle cx="1552.2" cy="573.4" r="4.1"/><circle cx="1546.8" cy="575.8" r="4.1"/><circle cx="1555.3" cy="583.6" r="4.1"/><circle cx="1557.7" cy="585.1" r="4.1"/><circle cx="1541.7" cy="587.5" r="4.1"/><circle cx="1553.0" cy="589.8" r="4.1"/><circle cx="1547.5" cy="596.8" r="4.1"/><circle cx="1535.0" cy="598.4" r="4.1"/><circle cx="1531.9" cy="601.5" r="4.1"/><circle cx="1560.0" cy="599.2" r="4.1"/><circle cx="1530.8" cy="607.8" r="4.1"/><circle cx="1416.6" cy="621.4" r="4.1"/><circle cx="1445.7" cy="616.7" r="4.1"/><circle cx="1450.4" cy="630.0" r="4.1"/><circle cx="1483.9" cy="618.3" r="4.1"/><circle cx="1494.8" cy="612.1" r="4.1"/><circle cx="1503.0" cy="618.7" r="4.1"/><circle cx="1507.3" cy="620.6" r="4.1"/><circle cx="1543.6" cy="615.6" r="4.1"/><circle cx="1548.3" cy="614.0" r="4.1"/><circle cx="1556.1" cy="611.7" r="4.1"/><circle cx="1562.8" cy="614.8" r="4.1"/><circle cx="1546.8" cy="622.6" r="4.1"/><circle cx="1551.4" cy="620.3" r="4.1"/><circle cx="1555.3" cy="617.1" r="4.1"/><circle cx="1537.0" cy="625.3" r="4.1"/><circle cx="1521.8" cy="628.5" r="4.1"/><circle cx="1514.4" cy="632.7" r="4.1"/><circle cx="1488.2" cy="638.2" r="4.1"/><circle cx="1527.6" cy="637.0" r="4.1"/><circle cx="1539.7" cy="632.0" r="4.1"/><circle cx="1542.9" cy="636.6" r="4.1"/><circle cx="1562.4" cy="629.6" r="4.1"/><circle cx="1559.3" cy="636.6" r="4.1"/><circle cx="1578.3" cy="557.8" r="4.1"/><circle cx="1591.2" cy="557.8" r="4.1"/><circle cx="1595.5" cy="562.9" r="4.1"/><circle cx="1602.9" cy="567.6" r="4.1"/><circle cx="1610.7" cy="564.4" r="4.1"/><circle cx="1578.0" cy="566.4" r="4.1"/><circle cx="1573.3" cy="574.2" r="4.1"/><circle cx="1593.2" cy="574.6" r="4.1"/><circle cx="1626.4" cy="560.9" r="4.1"/><circle cx="1624.0" cy="568.7" r="4.1"/><circle cx="1628.7" cy="570.3" r="4.1"/><circle cx="1639.2" cy="567.6" r="4.1"/><circle cx="1652.1" cy="558.2" r="4.1"/><circle cx="1655.2" cy="568.0" r="4.1"/><circle cx="1668.1" cy="558.6" r="4.1"/><circle cx="1668.5" cy="566.4" r="4.1"/><circle cx="1671.6" cy="569.5" r="4.1"/><circle cx="1665.0" cy="574.2" r="4.1"/><circle cx="1681.0" cy="573.4" r="4.1"/><circle cx="1716.1" cy="560.1" r="4.1"/><circle cx="1715.0" cy="566.8" r="4.1"/><circle cx="1716.9" cy="575.8" r="4.1"/><circle cx="1718.5" cy="579.7" r="4.1"/><circle cx="1723.5" cy="584.3" r="4.1"/><circle cx="1694.7" cy="575.8" r="4.1"/><circle cx="1702.9" cy="577.3" r="4.1"/><circle cx="1704.4" cy="582.8" r="4.1"/><circle cx="1688.0" cy="582.8" r="4.1"/><circle cx="1691.2" cy="589.0" r="4.1"/><circle cx="1692.7" cy="593.7" r="4.1"/><circle cx="1697.4" cy="596.8" r="4.1"/><circle cx="1705.2" cy="589.0" r="4.1"/><circle cx="1714.2" cy="593.3" r="4.1"/><circle cx="1694.3" cy="601.5" r="4.1"/><circle cx="1697.4" cy="604.6" r="4.1"/><circle cx="1697.4" cy="609.3" r="4.1"/><circle cx="1713.0" cy="606.2" r="4.1"/><circle cx="1713.0" cy="611.7" r="4.1"/><circle cx="1723.2" cy="604.6" r="4.1"/><circle cx="1704.4" cy="614.0" r="4.1"/><circle cx="1696.6" cy="614.8" r="4.1"/><circle cx="1688.0" cy="615.6" r="4.1"/><circle cx="1675.9" cy="582.0" r="4.1"/><circle cx="1677.1" cy="587.5" r="4.1"/><circle cx="1678.7" cy="593.7" r="4.1"/><circle cx="1678.7" cy="603.1" r="4.1"/><circle cx="1672.4" cy="592.2" r="4.1"/><circle cx="1667.7" cy="592.2" r="4.1"/><circle cx="1667.7" cy="596.8" r="4.1"/><circle cx="1661.5" cy="600.0" r="4.1"/><circle cx="1659.9" cy="604.6" r="4.1"/><circle cx="1666.2" cy="606.2" r="4.1"/><circle cx="1669.3" cy="610.1" r="4.1"/><circle cx="1661.5" cy="610.9" r="4.1"/><circle cx="1661.5" cy="617.1" r="4.1"/><circle cx="1647.4" cy="578.1" r="4.1"/><circle cx="1655.2" cy="582.0" r="4.1"/><circle cx="1650.6" cy="582.8" r="4.1"/><circle cx="1642.0" cy="579.7" r="4.1"/><circle cx="1638.1" cy="575.0" r="4.1"/><circle cx="1643.5" cy="585.9" r="4.1"/><circle cx="1647.4" cy="590.6" r="4.1"/><circle cx="1641.2" cy="592.2" r="4.1"/><circle cx="1637.3" cy="589.0" r="4.1"/><circle cx="1634.9" cy="585.1" r="4.1"/><circle cx="1627.1" cy="579.7" r="4.1"/><circle cx="1628.7" cy="584.3" r="4.1"/><circle cx="1625.6" cy="592.2" r="4.1"/><circle cx="1620.9" cy="591.4" r="4.1"/><circle cx="1617.0" cy="593.7" r="4.1"/><circle cx="1614.6" cy="587.5" r="4.1"/><circle cx="1608.4" cy="575.8" r="4.1"/><circle cx="1615.4" cy="575.0" r="4.1"/><circle cx="1605.3" cy="584.3" r="4.1"/><circle cx="1605.3" cy="590.6" r="4.1"/><circle cx="1610.0" cy="592.2" r="4.1"/><circle cx="1586.5" cy="581.2" r="4.1"/><circle cx="1588.1" cy="586.7" r="4.1"/><circle cx="1589.7" cy="590.6" r="4.1"/><circle cx="1574.8" cy="589.0" r="4.1"/><circle cx="1560.8" cy="583.6" r="4.1"/><circle cx="1583.4" cy="597.6" r="4.1"/><circle cx="1592.0" cy="596.1" r="4.1"/><circle cx="1589.7" cy="600.7" r="4.1"/><circle cx="1584.2" cy="603.9" r="4.1"/><circle cx="1578.7" cy="607.8" r="4.1"/><circle cx="1568.6" cy="607.0" r="4.1"/><circle cx="1595.1" cy="603.1" r="4.1"/><circle cx="1600.6" cy="600.7" r="4.1"/><circle cx="1606.8" cy="601.5" r="4.1"/><circle cx="1610.0" cy="604.6" r="4.1"/><circle cx="1623.2" cy="603.9" r="4.1"/><circle cx="1634.9" cy="600.7" r="4.1"/><circle cx="1642.0" cy="600.7" r="4.1"/><circle cx="1649.0" cy="600.7" r="4.1"/><circle cx="1653.7" cy="604.6" r="4.1"/><circle cx="1642.0" cy="606.2" r="4.1"/><circle cx="1645.9" cy="609.3" r="4.1"/><circle cx="1631.8" cy="609.3" r="4.1"/><circle cx="1570.1" cy="616.4" r="4.1"/><circle cx="1579.5" cy="614.0" r="4.1"/><circle cx="1591.2" cy="614.0" r="4.1"/><circle cx="1599.0" cy="615.6" r="4.1"/><circle cx="1606.8" cy="611.7" r="4.1"/><circle cx="1614.6" cy="610.9" r="4.1"/><circle cx="1622.5" cy="612.5" r="4.1"/><circle cx="1630.3" cy="613.2" r="4.1"/><circle cx="1639.6" cy="614.8" r="4.1"/><circle cx="1645.9" cy="614.8" r="4.1"/><circle cx="1584.2" cy="623.4" r="4.1"/><circle cx="1583.4" cy="630.4" r="4.1"/><circle cx="1574.1" cy="630.8" r="4.1"/><circle cx="1581.1" cy="635.1" r="4.1"/><circle cx="1593.6" cy="621.8" r="4.1"/><circle cx="1595.1" cy="627.3" r="4.1"/><circle cx="1603.7" cy="621.8" r="4.1"/><circle cx="1606.8" cy="628.1" r="4.1"/><circle cx="1610.0" cy="634.3" r="4.1"/><circle cx="1616.2" cy="626.5" r="4.1"/><circle cx="1616.2" cy="634.3" r="4.1"/><circle cx="1622.5" cy="628.1" r="4.1"/><circle cx="1628.7" cy="623.4" r="4.1"/><circle cx="1630.3" cy="631.2" r="4.1"/><circle cx="1624.0" cy="637.4" r="4.1"/><circle cx="1638.1" cy="620.3" r="4.1"/><circle cx="1642.0" cy="626.5" r="4.1"/><circle cx="1649.8" cy="620.3" r="4.1"/><circle cx="1653.7" cy="626.5" r="4.1"/><circle cx="1642.0" cy="634.3" r="4.1"/><circle cx="1652.1" cy="634.3" r="4.1"/><circle cx="1660.7" cy="632.0" r="4.1"/><circle cx="1666.2" cy="632.0" r="4.1"/><circle cx="1670.8" cy="630.0" r="4.1"/><circle cx="1677.1" cy="623.4" r="4.1"/><circle cx="1681.8" cy="620.3" r="4.1"/><circle cx="1692.7" cy="627.3" r="4.1"/><circle cx="1681.8" cy="632.7" r="4.1"/><circle cx="1688.0" cy="632.7" r="4.1"/><circle cx="1699.0" cy="635.1" r="4.1"/><circle cx="1706.8" cy="624.2" r="4.1"/><circle cx="1706.8" cy="629.6" r="4.1"/><circle cx="1716.1" cy="625.7" r="4.1"/><circle cx="1721.6" cy="622.6" r="4.1"/><circle cx="1716.1" cy="632.0" r="4.1"/><circle cx="1720.8" cy="632.7" r="4.1"/><circle cx="1717.7" cy="639.0" r="4.1"/><circle cx="1665.4" cy="639.0" r="4.1"/><circle cx="1676.3" cy="638.2" r="4.1"/><circle cx="1599.0" cy="638.2" r="4.1"/><circle cx="1591.2" cy="639.0" r="4.1"/><circle cx="1567.8" cy="638.2" r="4.1"/><circle cx="1750.8" cy="559.8" r="4.1"/><circle cx="1738.0" cy="561.7" r="4.1"/><circle cx="1734.1" cy="564.8" r="4.1"/><circle cx="1744.2" cy="564.8" r="4.1"/><circle cx="1739.9" cy="572.6" r="4.1"/><circle cx="1723.9" cy="575.8" r="4.1"/><circle cx="1732.1" cy="584.7" r="4.1"/><circle cx="1796.5" cy="571.9" r="4.1"/><circle cx="1848.4" cy="589.0" r="4.1"/><circle cx="1793.0" cy="596.6" r="4.1"/><circle cx="1805.9" cy="608.9" r="4.1"/><circle cx="1737.6" cy="600.7" r="4.1"/><circle cx="1735.2" cy="606.2" r="4.1"/><circle cx="1748.9" cy="598.8" r="4.1"/><circle cx="1752.8" cy="598.4" r="4.1"/><circle cx="1749.7" cy="607.0" r="4.1"/><circle cx="1738.7" cy="615.6" r="4.1"/><circle cx="1739.1" cy="622.6" r="4.1"/><circle cx="1728.2" cy="619.1" r="4.1"/><circle cx="1757.1" cy="616.0" r="4.1"/><circle cx="1766.1" cy="624.9" r="4.1"/><circle cx="1785.6" cy="622.6" r="4.1"/><circle cx="1789.9" cy="625.7" r="4.1"/><circle cx="1828.1" cy="630.0" r="4.1"/><circle cx="1724.7" cy="629.6" r="4.1"/><circle cx="1729.4" cy="636.6" r="4.1"/><circle cx="1748.9" cy="632.7" r="4.1"/><circle cx="1745.0" cy="636.6" r="4.1"/><circle cx="1776.2" cy="639.0" r="4.1"/><circle cx="1550.3" cy="645.9" r="4.1"/><circle cx="1560.0" cy="646.7" r="4.1"/><circle cx="1556.1" cy="655.3" r="4.1"/><circle cx="1560.8" cy="653.7" r="4.1"/><circle cx="1561.6" cy="661.5" r="4.1"/><circle cx="1563.9" cy="672.1" r="4.1"/><circle cx="1451.5" cy="648.7" r="4.1"/><circle cx="1483.1" cy="655.3" r="4.1"/><circle cx="1482.0" cy="660.8" r="4.1"/><circle cx="1479.6" cy="666.2" r="4.1"/><circle cx="1485.1" cy="672.5" r="4.1"/><circle cx="1470.6" cy="661.9" r="4.1"/><circle cx="1461.7" cy="664.5" r="4.1"/><circle cx="1494.1" cy="658.0" r="4.1"/><circle cx="1499.9" cy="670.5" r="4.1"/><circle cx="1516.7" cy="658.4" r="4.1"/><circle cx="1523.7" cy="660.0" r="4.1"/><circle cx="1535.0" cy="659.2" r="4.1"/><circle cx="1546.8" cy="657.6" r="4.1"/><circle cx="1546.8" cy="662.3" r="4.1"/><circle cx="1542.1" cy="667.8" r="4.1"/><circle cx="1538.2" cy="677.5" r="4.1"/><circle cx="1504.2" cy="683.0" r="4.1"/><circle cx="1508.9" cy="686.9" r="4.1"/><circle cx="1482.0" cy="690.0" r="4.1"/><circle cx="1566.2" cy="640.5" r="4.1"/><circle cx="1569.8" cy="642.4" r="4.1"/><circle cx="1561.6" cy="649.1" r="4.1"/><circle cx="1579.5" cy="648.7" r="4.1"/><circle cx="1585.8" cy="647.5" r="4.1"/><circle cx="1590.4" cy="649.1" r="4.1"/><circle cx="1591.2" cy="642.8" r="4.1"/><circle cx="1598.3" cy="645.9" r="4.1"/><circle cx="1602.2" cy="650.6" r="4.1"/><circle cx="1605.3" cy="654.5" r="4.1"/><circle cx="1592.0" cy="659.6" r="4.1"/><circle cx="1598.6" cy="661.2" r="4.1"/><circle cx="1608.4" cy="642.8" r="4.1"/><circle cx="1614.6" cy="639.7" r="4.1"/><circle cx="1620.9" cy="638.9" r="4.1"/><circle cx="1627.1" cy="641.2" r="4.1"/><circle cx="1610.7" cy="647.5" r="4.1"/><circle cx="1617.8" cy="647.5" r="4.1"/><circle cx="1624.8" cy="647.5" r="4.1"/><circle cx="1630.3" cy="644.4" r="4.1"/><circle cx="1617.8" cy="653.7" r="4.1"/><circle cx="1620.9" cy="659.2" r="4.1"/><circle cx="1627.1" cy="653.0" r="4.1"/><circle cx="1630.3" cy="657.6" r="4.1"/><circle cx="1612.3" cy="663.9" r="4.1"/><circle cx="1635.7" cy="642.8" r="4.1"/><circle cx="1642.0" cy="638.1" r="4.1"/><circle cx="1649.8" cy="638.1" r="4.1"/><circle cx="1656.8" cy="636.6" r="4.1"/><circle cx="1663.8" cy="635.8" r="4.1"/><circle cx="1645.9" cy="644.4" r="4.1"/><circle cx="1645.9" cy="649.1" r="4.1"/><circle cx="1655.2" cy="642.8" r="4.1"/><circle cx="1663.8" cy="642.8" r="4.1"/><circle cx="1639.6" cy="653.7" r="4.1"/><circle cx="1645.9" cy="655.3" r="4.1"/><circle cx="1652.1" cy="653.7" r="4.1"/><circle cx="1657.6" cy="658.4" r="4.1"/><circle cx="1639.6" cy="659.2" r="4.1"/><circle cx="1645.9" cy="660.0" r="4.1"/><circle cx="1652.1" cy="660.8" r="4.1"/><circle cx="1666.2" cy="658.4" r="4.1"/><circle cx="1650.6" cy="666.2" r="4.1"/><circle cx="1657.6" cy="668.6" r="4.1"/><circle cx="1663.0" cy="665.4" r="4.1"/><circle cx="1667.7" cy="667.8" r="4.1"/><circle cx="1670.8" cy="670.9" r="4.1"/><circle cx="1675.5" cy="653.0" r="4.1"/><circle cx="1679.4" cy="638.9" r="4.1"/><circle cx="1674.8" cy="635.8" r="4.1"/><circle cx="1691.9" cy="642.8" r="4.1"/><circle cx="1699.0" cy="649.1" r="4.1"/><circle cx="1698.2" cy="653.0" r="4.1"/><circle cx="1703.6" cy="661.5" r="4.1"/><circle cx="1714.2" cy="651.8" r="4.1"/><circle cx="1717.7" cy="642.4" r="4.1"/><circle cx="1722.8" cy="673.3" r="4.1"/><circle cx="1697.8" cy="676.8" r="4.1"/><circle cx="1690.0" cy="683.8" r="4.1"/><circle cx="1682.6" cy="693.5" r="4.1"/><circle cx="1686.5" cy="706.4" r="4.1"/><circle cx="1687.6" cy="722.8" r="4.1"/><circle cx="1637.3" cy="672.5" r="4.1"/><circle cx="1646.7" cy="671.7" r="4.1"/><circle cx="1648.2" cy="677.9" r="4.1"/><circle cx="1628.7" cy="677.2" r="4.1"/><circle cx="1631.8" cy="683.4" r="4.1"/><circle cx="1641.2" cy="681.8" r="4.1"/><circle cx="1638.1" cy="688.1" r="4.1"/><circle cx="1638.1" cy="693.2" r="4.1"/><circle cx="1656.0" cy="683.4" r="4.1"/><circle cx="1663.0" cy="683.4" r="4.1"/><circle cx="1669.3" cy="684.2" r="4.1"/><circle cx="1664.6" cy="692.0" r="4.1"/><circle cx="1673.2" cy="691.2" r="4.1"/><circle cx="1570.1" cy="669.3" r="4.1"/><circle cx="1573.7" cy="672.1" r="4.1"/><circle cx="1587.3" cy="671.7" r="4.1"/><circle cx="1600.6" cy="673.3" r="4.1"/><circle cx="1604.5" cy="670.5" r="4.1"/><circle cx="1584.2" cy="681.1" r="4.1"/><circle cx="1576.8" cy="685.4" r="4.1"/><circle cx="1613.9" cy="709.5" r="4.1"/><circle cx="1739.5" cy="653.0" r="4.1"/><circle cx="1770.0" cy="658.8" r="4.1"/><circle cx="1754.0" cy="669.3" r="4.1"/><circle cx="1759.4" cy="679.1" r="4.1"/><circle cx="1748.9" cy="681.6" r="4.1"/><circle cx="1794.6" cy="679.5" r="4.1"/><circle cx="1618.5" cy="730.1" r="4.1"/><circle cx="1633.0" cy="750.7" r="4.1"/><circle cx="1891.1" cy="619.1" r="4.1"/><circle cx="1629.5" cy="566.9" r="4.1"/><circle cx="1626.4" cy="573.6" r="4.1"/><circle cx="1629.5" cy="575.2" r="4.1"/><circle cx="1624.3" cy="577.3" r="4.1"/><circle cx="1631.6" cy="584.0" r="4.1"/><circle cx="1653.5" cy="572.1" r="4.1"/><circle cx="1673.2" cy="589.2" r="4.1"/><circle cx="1675.8" cy="597.0" r="4.1"/><circle cx="1670.6" cy="599.6" r="4.1"/><circle cx="1606.0" cy="619.0" r="4.1"/><circle cx="1612.0" cy="618.0" r="4.1"/><circle cx="1618.0" cy="619.0" r="4.1"/><circle cx="1625.0" cy="618.0" r="4.1"/><circle cx="1613.0" cy="624.0" r="4.1"/><circle cx="1621.0" cy="625.0" r="4.1"/><circle cx="1598.0" cy="621.0" r="4.1"/><circle cx="1646.0" cy="622.0" r="4.1"/><circle cx="1648.0" cy="628.0" r="4.1"/><circle cx="1654.0" cy="630.0" r="4.1"/><circle cx="1674.0" cy="603.0" r="4.1"/><circle cx="1643.0" cy="620.0" r="4.1"/><circle cx="1646.0" cy="630.0" r="4.1"/><circle cx="1645.0" cy="637.0" r="4.1"/><circle cx="1553.9" cy="593.3" r="4.1"/><circle cx="1539.0" cy="594.0" r="4.1"/><circle cx="1544.0" cy="591.0" r="4.1"/><circle cx="1698.5" cy="577.3" r="4.1"/><circle cx="1701.6" cy="593.4" r="4.1"/><circle cx="1984.4" cy="302.8" r="4.1"/><circle cx="1877.3" cy="451.1" r="4.1"/><circle cx="1758.8" cy="469.1" r="4.1"/><circle cx="1780.6" cy="508.0" r="4.1"/><circle cx="1458.9" cy="717.2" r="4.1"/><circle cx="1521.8" cy="697.8" r="4.1"/><circle cx="1575.2" cy="715.0" r="4.1"/></g>
<line x1="1635.30" y1="177.00" x2="1635.30" y2="918.00" stroke="#b03a48" stroke-width="1.5"/>
<line x1="1331.10" y1="614.10" x2="2071.80" y2="614.10" stroke="#a0606a" stroke-width="1.7"/>
</svg>
</body></html>
